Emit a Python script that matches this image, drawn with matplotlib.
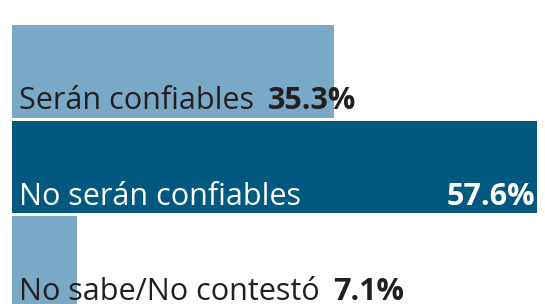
import matplotlib.pyplot as plt

labels = ["Serán confiables", "No serán confiables", "No sabe/No contestó"]
values = [35.3, 57.6, 7.1]
pct_labels = ["35.3%", "57.6%", "7.1%"]
bar_colors = ["#7AA8C7", "#02597F", "#7AA8C7"]
text_colors = ["#231F20", "#FFFFFF", "#231F20"]

plt.rcParams["font.family"] = ["Open Sans", "DejaVu Sans"]

fig = plt.figure(figsize=(5.45, 3.04), dpi=100)
# x=0 at px 12, x=57.6 at px 537
ax = fig.add_axes([12 / 545, 0, (537 - 12) / 545, 1])
ax.set_xlim(0, 57.6)
ax.set_ylim(2.435, -0.749)
ax.axis("off")

y = range(len(values))
ax.barh(y, values, height=0.965, color=bar_colors)

fs = 22
for i, (lab, v, p) in enumerate(zip(labels, values, pct_labels)):
    bottom = i + 0.965 / 2
    t = ax.annotate(lab, xy=(0, bottom), xytext=(5, 6), textcoords="offset points",
                    fontsize=fs, color=text_colors[i], va="baseline", ha="left",
                    annotation_clip=False)
    if i == 1:
        ax.annotate(p, xy=(v, bottom), xytext=(-1, 6), textcoords="offset points",
                    fontsize=fs, color=text_colors[i], va="baseline", ha="right",
                    fontweight="bold", annotation_clip=False)
    else:
        ax.annotate(p, xy=(1, 0), xycoords=t, xytext=(10, 0), textcoords="offset points",
                    fontsize=fs, color="#231F20", va="bottom", ha="left",
                    fontweight="bold", annotation_clip=False)

fig.savefig("out.png", dpi=100)
